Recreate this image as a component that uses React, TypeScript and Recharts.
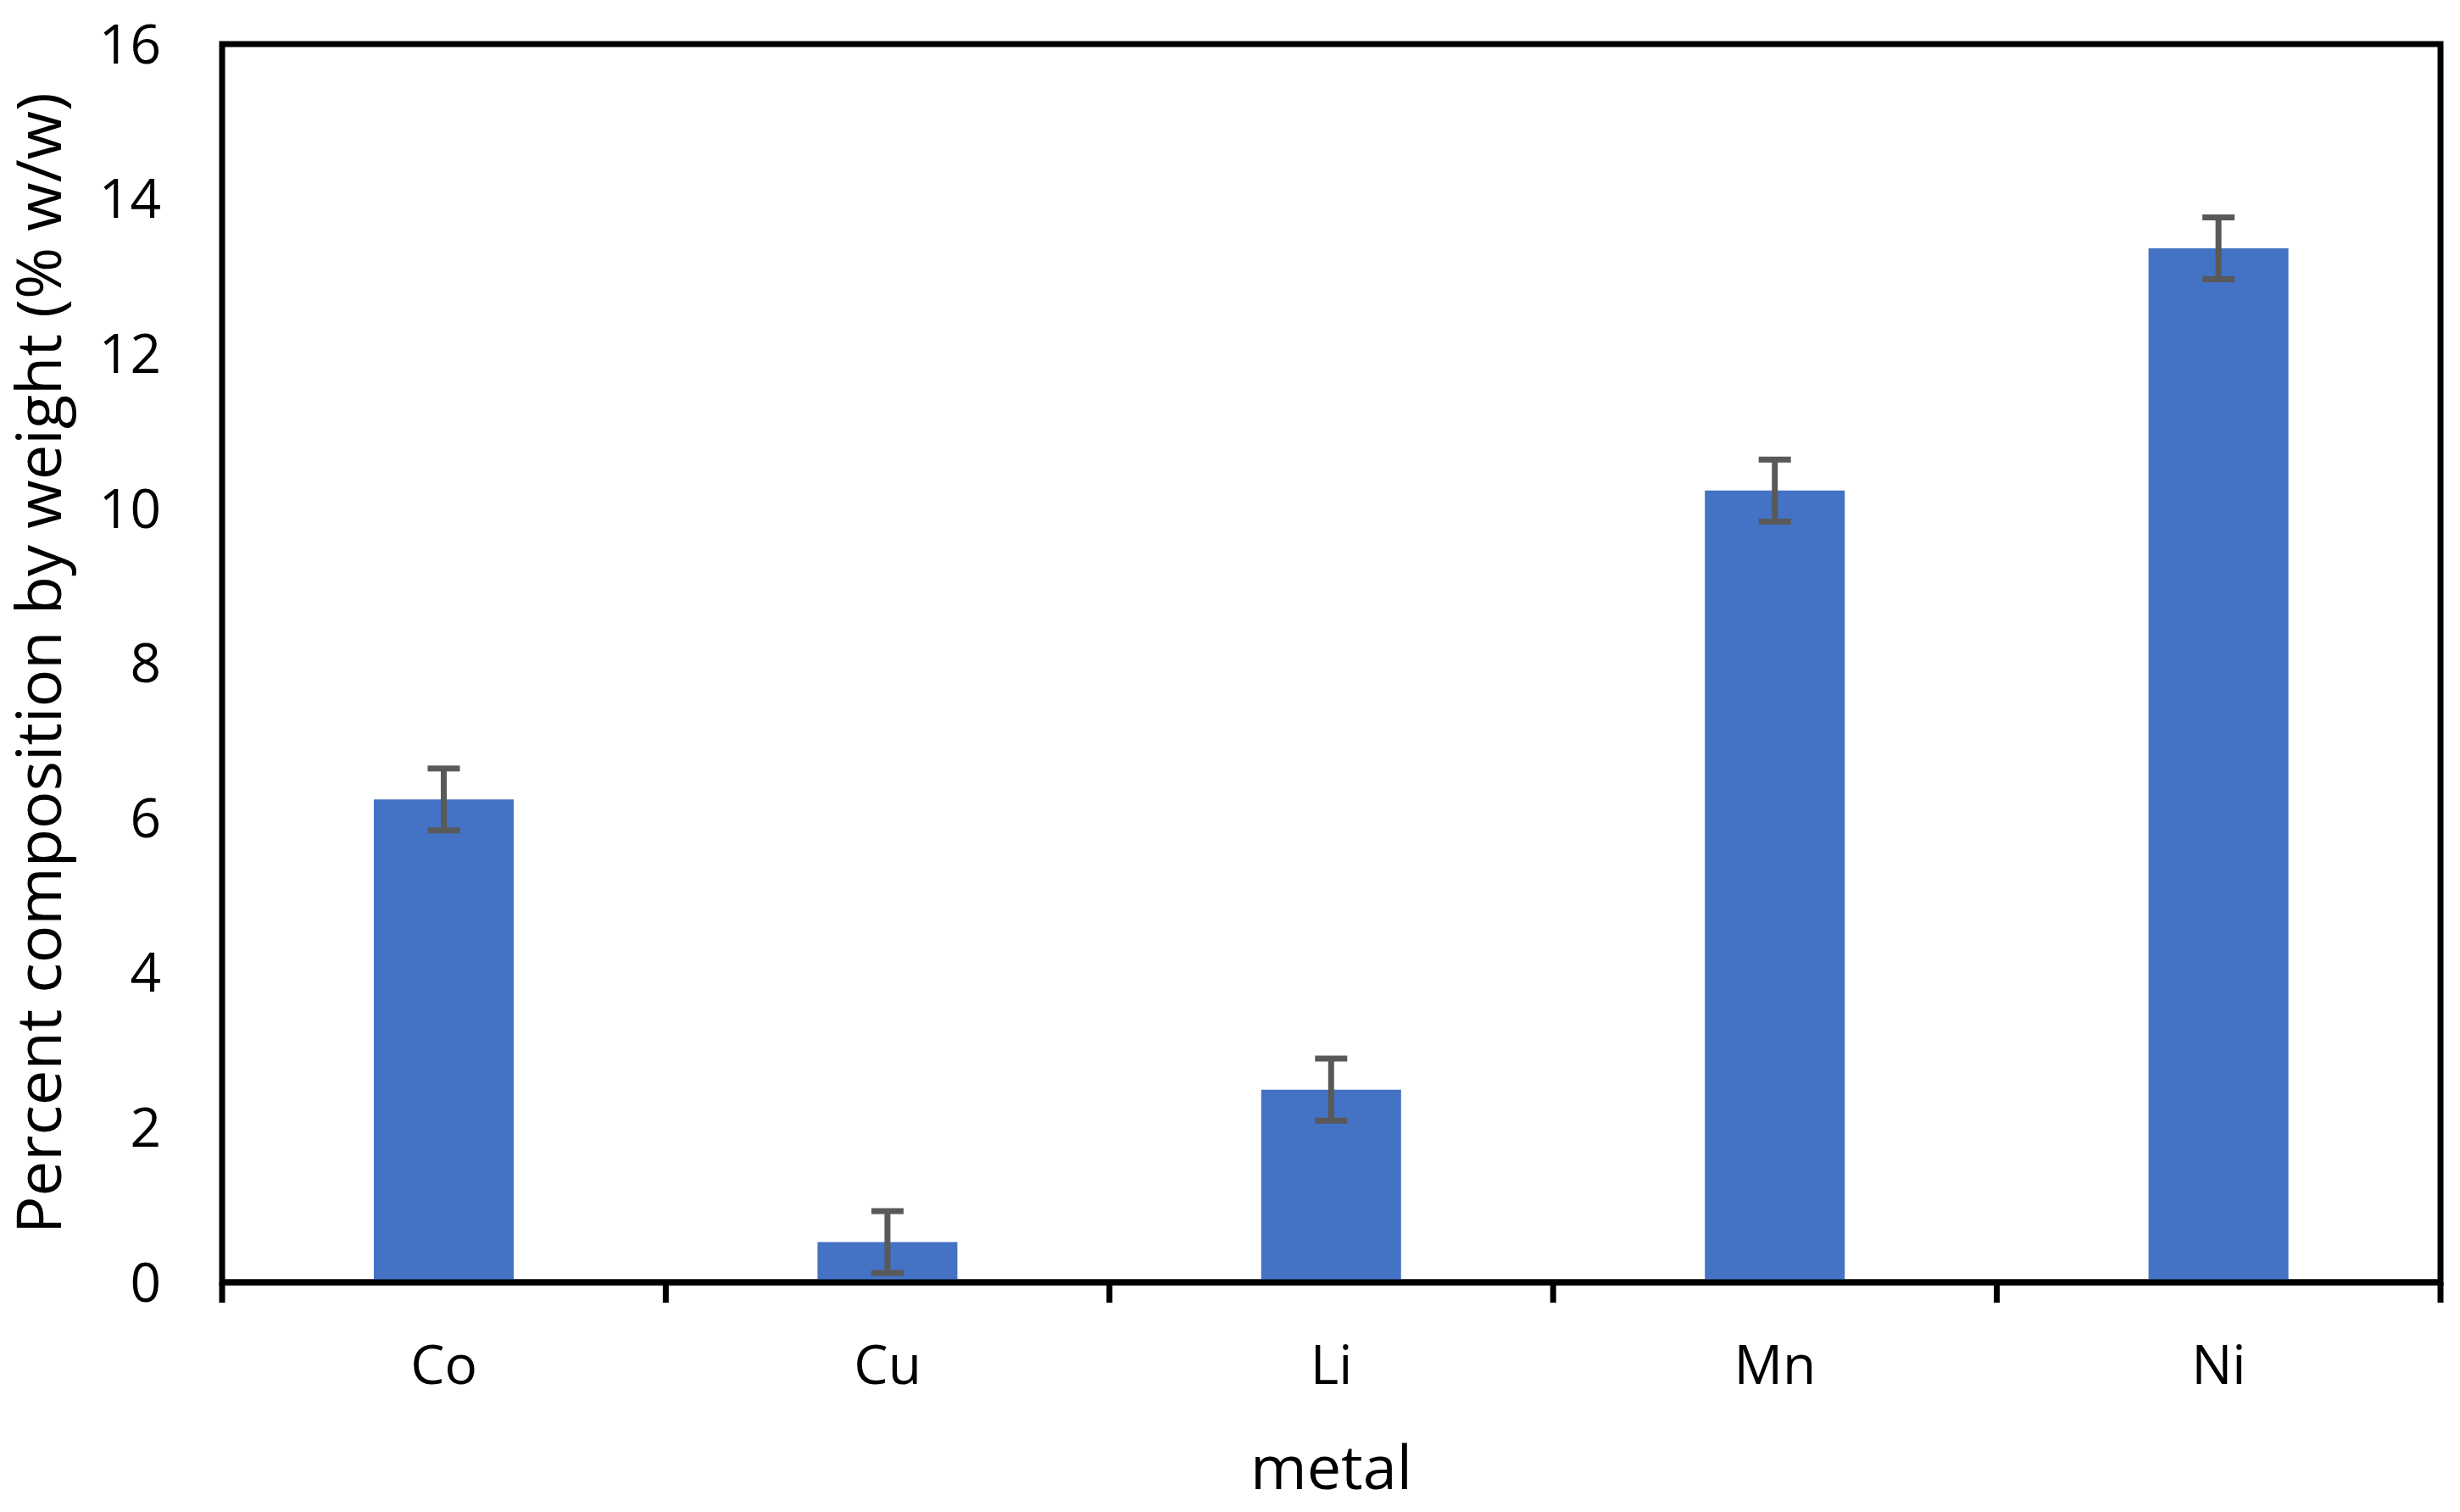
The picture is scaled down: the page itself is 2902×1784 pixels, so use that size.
import { BarChart, Bar, XAxis, YAxis, ErrorBar, ReferenceArea } from "recharts";

const metals = ["Co", "Cu", "Li", "Mn", "Ni"];
const composition = [6.24, 0.52, 2.49, 10.23, 13.36];
const errors = [0.4, 0.4, 0.4, 0.4, 0.4];
const yTicks = [0, 2, 4, 6, 8, 10, 12, 14, 16];

const data = metals.map((metal, i) => ({ metal, value: composition[i], err: errors[i] }));

const font = "'Open Sans', sans-serif";

// category label plus Excel-style tick marks on the category boundaries
const XTick = (props: any) => {
  const { x, y, payload, index, width, visibleTicksCount } = props;
  const half = width / (visibleTicksCount || metals.length) / 2;
  const isLast = index === (visibleTicksCount || metals.length) - 1;
  return (
    <g>
      <line x1={x - half} x2={x - half} y1={y} y2={y + 24} stroke="#000" strokeWidth={7} />
      {isLast && <line x1={x + half} x2={x + half} y1={y} y2={y + 24} stroke="#000" strokeWidth={7} />}
      <text x={x} y={y + 75} dy="0.71em" textAnchor="middle" fill="#000" fontSize={64} fontFamily={font}>
        {payload.value}
      </text>
    </g>
  );
};

const App = () => {
  return (
    <div style={{ position: "absolute", left: 0, top: 0, background: "#fff" }}>
      <BarChart width={2902} height={1784} data={data} margin={{ top: 52, right: 23, left: 0, bottom: 0 }}>
        <XAxis
          dataKey="metal"
          height={271}
          interval={0}
          tick={<XTick />}
          tickSize={0}
          tickMargin={0}
          tickLine={false}
          axisLine={{ stroke: "#000", strokeWidth: 7 }}
          label={{ value: "metal", position: "insideBottom", offset: 27, fill: "#000", fontSize: 72, fontFamily: font }}
        />
        <YAxis
          domain={[0, 16]}
          ticks={yTicks}
          width={262}
          axisLine={false}
          tickLine={false}
          tickSize={0}
          tickMargin={72}
          tick={{ fill: "#000", fontSize: 64, fontFamily: font }}
          label={{
            value: "Percent composition by weight (% w/w)",
            angle: -90,
            position: "center",
            dx: -85,
            fill: "#000",
            fontSize: 74,
            fontFamily: font,
          }}
        />
        <Bar dataKey="value" fill="#4472C4" barSize={165} isAnimationActive={false}>
          <ErrorBar dataKey="err" direction="y" width={19} stroke="#595959" strokeWidth={7} />
        </Bar>
        <ReferenceArea y1={0} y2={16} fill="none" stroke="#000" strokeWidth={7} ifOverflow="visible" />
      </BarChart>
    </div>
  );
};

export default App;
